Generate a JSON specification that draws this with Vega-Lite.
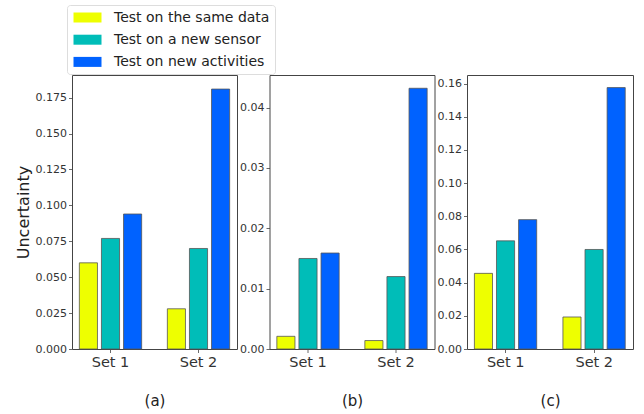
{
  "$schema": "https://vega.github.io/schema/vega-lite/v6.json",
  "padding": {"left": 14, "top": 4, "right": 5, "bottom": 5},
  "data": {"values": [
    {"panel": "a", "set": "Set 1", "test": "Test on the same data", "value": 0.060},
    {"panel": "a", "set": "Set 1", "test": "Test on a new sensor", "value": 0.077},
    {"panel": "a", "set": "Set 1", "test": "Test on new activities", "value": 0.094},
    {"panel": "a", "set": "Set 2", "test": "Test on the same data", "value": 0.028},
    {"panel": "a", "set": "Set 2", "test": "Test on a new sensor", "value": 0.070},
    {"panel": "a", "set": "Set 2", "test": "Test on new activities", "value": 0.181},
    {"panel": "b", "set": "Set 1", "test": "Test on the same data", "value": 0.0021},
    {"panel": "b", "set": "Set 1", "test": "Test on a new sensor", "value": 0.0150},
    {"panel": "b", "set": "Set 1", "test": "Test on new activities", "value": 0.0159},
    {"panel": "b", "set": "Set 2", "test": "Test on the same data", "value": 0.0014},
    {"panel": "b", "set": "Set 2", "test": "Test on a new sensor", "value": 0.0120},
    {"panel": "b", "set": "Set 2", "test": "Test on new activities", "value": 0.0432},
    {"panel": "c", "set": "Set 1", "test": "Test on the same data", "value": 0.0456},
    {"panel": "c", "set": "Set 1", "test": "Test on a new sensor", "value": 0.0652},
    {"panel": "c", "set": "Set 1", "test": "Test on new activities", "value": 0.078},
    {"panel": "c", "set": "Set 2", "test": "Test on the same data", "value": 0.0193},
    {"panel": "c", "set": "Set 2", "test": "Test on a new sensor", "value": 0.0600},
    {"panel": "c", "set": "Set 2", "test": "Test on new activities", "value": 0.1576}
  ]},
  "spacing": 32.5,
  "bounds": "flush",
  "hconcat": [
    {
      "width": 165, "height": 274,
      "transform": [{"filter": "datum.panel === 'a'"}],
      "mark": {"type": "bar", "stroke": "#555", "strokeWidth": 0.8},
      "encoding": {
        "x": {"field": "set", "type": "nominal", "title": "(a)",
              "scale": {"paddingInner": 0.292, "paddingOuter": 0.0835}},
        "xOffset": {"field": "test", "type": "nominal",
              "sort": ["Test on the same data", "Test on a new sensor", "Test on new activities"],
              "scale": {"paddingInner": 0.18, "paddingOuter": 0}},
        "y": {"field": "value", "type": "quantitative", "title": "Uncertainty",
              "scale": {"domain": [0, 0.1908], "nice": false},
              "axis": {"values": [0, 0.025, 0.05, 0.075, 0.1, 0.125, 0.15, 0.175], "format": ".3f"}},
        "color": {"field": "test", "type": "nominal",
              "scale": {"domain": ["Test on the same data", "Test on a new sensor", "Test on new activities"],
                        "range": ["#eeff00", "#00bdb8", "#0062ff"]},
              "legend": {"orient": "none", "legendX": -5, "legendY": -70, "title": null}}
      }
    },
    {
      "width": 165, "height": 274,
      "transform": [{"filter": "datum.panel === 'b'"}],
      "mark": {"type": "bar", "stroke": "#555", "strokeWidth": 0.8},
      "encoding": {
        "x": {"field": "set", "type": "nominal", "title": "(b)",
              "scale": {"paddingInner": 0.292, "paddingOuter": 0.0835}},
        "xOffset": {"field": "test", "type": "nominal",
              "sort": ["Test on the same data", "Test on a new sensor", "Test on new activities"],
              "scale": {"paddingInner": 0.18, "paddingOuter": 0}},
        "y": {"field": "value", "type": "quantitative", "title": null,
              "scale": {"domain": [0, 0.0454], "nice": false},
              "axis": {"values": [0, 0.01, 0.02, 0.03, 0.04], "format": ".2f"}},
        "color": {"field": "test", "type": "nominal"}
      }
    },
    {
      "width": 166, "height": 274,
      "transform": [{"filter": "datum.panel === 'c'"}],
      "mark": {"type": "bar", "stroke": "#555", "strokeWidth": 0.8},
      "encoding": {
        "x": {"field": "set", "type": "nominal", "title": "(c)",
              "scale": {"paddingInner": 0.292, "paddingOuter": 0.0835}},
        "xOffset": {"field": "test", "type": "nominal",
              "sort": ["Test on the same data", "Test on a new sensor", "Test on new activities"],
              "scale": {"paddingInner": 0.18, "paddingOuter": 0}},
        "y": {"field": "value", "type": "quantitative", "title": null,
              "scale": {"domain": [0, 0.1652], "nice": false},
              "axis": {"values": [0, 0.02, 0.04, 0.06, 0.08, 0.1, 0.12, 0.14, 0.16], "format": ".2f"}},
        "color": {"field": "test", "type": "nominal"}
      }
    }
  ],
  "config": {
    "font": "DejaVu Sans",
    "view": {"stroke": "#444", "strokeWidth": 1},
    "axis": {
      "grid": false, "domain": false,
      "tickColor": "#444", "tickSize": 3.5, "tickWidth": 0.8,
      "labelColor": "#333", "titleColor": "#222", "titleFontWeight": "normal"
    },
    "axisX": {"labelAngle": 0, "labelFontSize": 14.5, "labelPadding": 3, "titleFontSize": 15, "titlePadding": 24},
    "axisY": {"labelFontSize": 11, "labelPadding": 2, "titleFontSize": 16, "titlePadding": 4},
    "legend": {
      "strokeColor": "#ddd", "fillColor": "white", "cornerRadius": 3, "padding": 5,
      "symbolType": "M-1.98,-0.707L1.98,-0.707L1.98,0.707L-1.98,0.707Z",
      "symbolSize": 200, "symbolOffset": 8, "symbolStrokeWidth": 0, "symbolOpacity": 1,
      "labelFontSize": 14, "labelOffset": 19, "labelColor": "#222", "rowPadding": 7.2
    }
  }
}
